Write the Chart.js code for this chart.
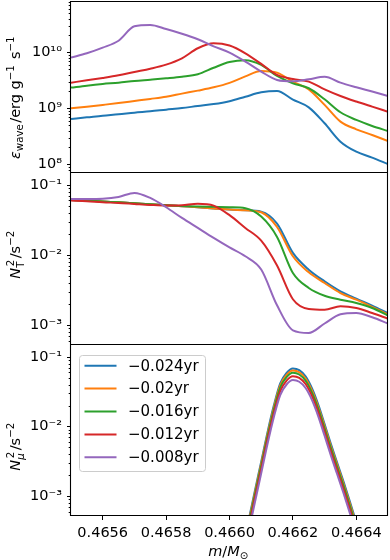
<!DOCTYPE html>
<html>
<head>
<meta charset="utf-8">
<script src="https://cdn.jsdelivr.net/npm/chart.js@4.4.1/dist/chart.umd.min.js"></script>
<style>
  html, body { margin: 0; padding: 0; background: #fff; }
  #wrap { position: relative; width: 390px; height: 560px; overflow: hidden; }
  canvas { position: absolute; left: 0; }
</style>
</head>
<body>
<div id="wrap">
  <canvas id="eps" width="390" height="173" style="top:0;width:390px;height:173px"></canvas>
  <canvas id="nt" width="390" height="172" style="top:173px;width:390px;height:172px"></canvas>
  <canvas id="nmu" width="390" height="215" style="top:345px;width:390px;height:215px"></canvas>
</div>
<script>
// ---- data ----
const seriesLabels = ['\u22120.024yr', '\u22120.02yr', '\u22120.016yr', '\u22120.012yr', '\u22120.008yr'];
const seriesColors = ['#1f77b4', '#ff7f0e', '#2ca02c', '#d62728', '#9467bd'];

// mass coordinate m/Msun (top two panels)
const mass = [0.46550, 0.46555, 0.46560, 0.46565, 0.46570, 0.46575, 0.46580, 0.46585, 0.46590, 0.46595,
              0.46600, 0.46605, 0.46610, 0.46615, 0.46620, 0.46625, 0.46630, 0.46635, 0.46640, 0.46645, 0.46650];
// mass coordinate for the N_mu peak (bottom panel)
const massMu = [0.46604, 0.46606, 0.46608, 0.46610, 0.46612, 0.46614, 0.46616, 0.46618, 0.46620, 0.46622,
                0.46624, 0.46626, 0.46628, 0.46630, 0.46632, 0.46634, 0.46636, 0.46638, 0.46640];

// epsilon_wave, erg g^-1 s^-1
const eps024 = [6.46e8, 6.9e8, 7.4e8, 7.82e8, 8.37e8, 8.83e8, 9.46e8, 1.01e9, 1.10e9, 1.19e9,
                1.34e9, 1.61e9, 1.93e9, 2.04e9, 1.43e9, 1.04e9, 5.4e8, 2.54e8, 1.68e8, 1.32e8, 1.01e8];
const eps020 = [1.0e9, 1.07e9, 1.15e9, 1.24e9, 1.35e9, 1.47e9, 1.61e9, 1.83e9, 2.07e9, 2.37e9,
                2.85e9, 3.72e9, 4.65e9, 4.33e9, 2.99e9, 2.18e9, 1.15e9, 5.78e8, 4.22e8, 3.34e8, 2.61e8];
const eps016 = [2.34e9, 2.54e9, 2.72e9, 2.87e9, 3.08e9, 3.25e9, 3.44e9, 3.67e9, 4.05e9, 5.3e9,
                6.7e9, 7.2e9, 5.94e9, 3.78e9, 2.79e9, 2.28e9, 1.45e9, 8.5e8, 6.2e8, 4.84e8, 3.94e8];
const eps012 = [2.87e9, 3.16e9, 3.48e9, 3.88e9, 4.46e9, 5.1e9, 6.03e9, 7.82e9, 1.18e10, 1.45e10,
                1.32e10, 9.6e9, 6.2e9, 3.94e9, 3.34e9, 2.99e9, 2.18e9, 1.66e9, 1.32e9, 1.07e9, 8.7e8];
const eps008 = [8.04e9, 9.6e9, 1.21e10, 1.61e10, 2.91e10, 3.08e10, 2.61e10, 2.15e10, 1.71e10, 1.28e10,
                9.87e9, 6.81e9, 4.52e9, 3.21e9, 3.03e9, 3.3e9, 3.67e9, 2.87e9, 2.37e9, 1.99e9, 1.66e9];

// N_T^2, s^-2
const nt024 = [0.0611, 0.0597, 0.0578, 0.0565, 0.0547, 0.0529, 0.0513, 0.0496, 0.0480, 0.0462,
               0.0444, 0.0435, 0.0416, 0.0281, 0.0107, 0.00617, 0.00421, 0.00303, 0.00238, 0.00189, 0.00148];
const nt020 = [0.0611, 0.0597, 0.0578, 0.0565, 0.0547, 0.0529, 0.0513, 0.0496, 0.0480, 0.0462,
               0.0444, 0.0435, 0.0407, 0.0251, 0.00957, 0.00565, 0.00398, 0.00286, 0.0023, 0.00181, 0.00141];
const nt016 = [0.0611, 0.0597, 0.0578, 0.0565, 0.0547, 0.0529, 0.0513, 0.0500, 0.0492, 0.0486,
               0.0480, 0.0464, 0.0353, 0.0181, 0.00553, 0.00338, 0.00262, 0.0023, 0.00206, 0.00175, 0.00136];
const nt012 = [0.0597, 0.0585, 0.0565, 0.0553, 0.0535, 0.0518, 0.0507, 0.0513, 0.0540, 0.0507,
               0.0370, 0.0243, 0.0160, 0.00705, 0.00233, 0.00169, 0.00165, 0.00185, 0.00175, 0.00148, 0.00123];
const nt008 = [0.0631, 0.0631, 0.0637, 0.0674, 0.0769, 0.0652, 0.0480, 0.0338, 0.0243, 0.0175,
               0.0128, 0.00957, 0.0062, 0.00191, 0.00084, 0.00077, 0.00105, 0.00142, 0.00148, 0.00129, 0.00105];

// N_mu^2, s^-2
const nmu024 = [1.71e-4, 4.44e-4, 1.19e-3, 3.12e-3, 8.30e-3, 0.0201, 0.0416, 0.0589, 0.0681, 0.0644,
                0.0524, 0.0354, 0.0206, 0.0108, 5.58e-3, 2.99e-3, 1.60e-3, 8.30e-4, 4.16e-4];
const nmu020 = [1.60e-4, 4.14e-4, 1.11e-3, 2.91e-3, 7.74e-3, 0.0188, 0.0388, 0.0550, 0.0635, 0.0601,
                0.0489, 0.0330, 0.0192, 0.0101, 5.21e-3, 2.79e-3, 1.49e-3, 7.74e-4, 3.88e-4];
const nmu016 = [1.48e-4, 3.85e-4, 1.03e-3, 2.71e-3, 7.20e-3, 0.0174, 0.0361, 0.0511, 0.0590, 0.0558,
                0.0454, 0.0307, 0.0179, 9.36e-3, 4.84e-3, 2.59e-3, 1.39e-3, 7.20e-4, 3.61e-4];
const nmu012 = [1.33e-4, 3.45e-4, 9.23e-4, 2.42e-3, 6.44e-3, 0.0156, 0.0323, 0.0457, 0.0528, 0.0500,
                0.0407, 0.0275, 0.0160, 8.38e-3, 4.33e-3, 2.32e-3, 1.24e-3, 6.44e-4, 3.23e-4];
const nmu008 = [1.16e-4, 3.02e-4, 8.10e-4, 2.12e-3, 5.65e-3, 0.0137, 0.0283, 0.0401, 0.0464, 0.0439,
                0.0357, 0.0241, 0.0140, 7.35e-3, 3.80e-3, 2.04e-3, 1.09e-3, 5.65e-4, 2.83e-4];

// axes
const xRange = [0.4655, 0.4665];
const xTicks = [0.4656, 0.4658, 0.4660, 0.4662, 0.4664];
const xTickLabels = ['0.4656', '0.4658', '0.4660', '0.4662', '0.4664'];
const epsRange = [7.0e7, 8.24e10];
const epsTicks = [1e8, 1e9, 1e10];
const epsTickLabels = ['10\u2078', '10\u2079', '10\u00b9\u2070'];
const nRange = [5.18e-4, 0.148];
const nTicks = [1e-3, 1e-2, 1e-1];
const nTickLabels = ['10\u207b\u00b3', '10\u207b\u00b2', '10\u207b\u00b9'];

// ---- drawing helpers ----
const FAMILY = '"DejaVu Sans", sans-serif';
const BIG = 14.5, SMALL = 10.2, SUP = -6, SUB = 3.5;

Chart.defaults.font.family = FAMILY;
Chart.defaults.color = '#000';

function fontStr(size, italic) {
    return (italic ? 'italic ' : '') + size + 'px ' + FAMILY;
}

function partWidth(ctx, p) {
    if (p.stack) return Math.max(...p.stack.map(q => partWidth(ctx, q))) + 1.5;
    ctx.font = fontStr(p.s, p.it);
    return ctx.measureText(p.t).width + (p.s === SMALL ? 1.5 : 0);
}

// text with sub/superscripts, centred on (x, y) baseline
function drawRich(ctx, parts, x, y, angle) {
    ctx.save();
    ctx.translate(x, y);
    ctx.rotate(angle);
    ctx.fillStyle = '#000';
    ctx.textAlign = 'left';
    ctx.textBaseline = 'alphabetic';
    const widths = parts.map(p => partWidth(ctx, p));
    let cx = -widths.reduce((a, b) => a + b, 0) / 2;
    parts.forEach((p, i) => {
        (p.stack || [p]).forEach(q => {
            ctx.font = fontStr(q.s, q.it);
            ctx.fillText(q.t, cx + (q.dx || 0), q.dy || 0);
        });
        cx += widths[i];
    });
    ctx.restore();
}

function roundRectPath(ctx, x, y, w, h, r) {
    ctx.beginPath();
    ctx.moveTo(x + r, y);
    ctx.lineTo(x + w - r, y);
    ctx.arcTo(x + w, y, x + w, y + r, r);
    ctx.lineTo(x + w, y + h - r);
    ctx.arcTo(x + w, y + h, x + w - r, y + h, r);
    ctx.lineTo(x + r, y + h);
    ctx.arcTo(x, y + h, x, y + h - r, r);
    ctx.lineTo(x, y + r);
    ctx.arcTo(x, y, x + r, y, r);
    ctx.closePath();
}

function drawLegend(chart, L) {
    const ctx = chart.ctx;
    ctx.save();
    roundRectPath(ctx, L.x, L.y, L.w, L.h, 3);
    ctx.fillStyle = 'rgba(255,255,255,0.8)';
    ctx.fill();
    ctx.strokeStyle = '#cccccc';
    ctx.lineWidth = 1;
    ctx.stroke();
    ctx.font = fontStr(15, false);
    ctx.textBaseline = 'middle';
    ctx.textAlign = 'left';
    chart.data.datasets.forEach((d, i) => {
        const y = L.row0 + i * L.step;
        ctx.strokeStyle = d.borderColor;
        ctx.lineWidth = 2;
        ctx.beginPath();
        ctx.moveTo(L.x + 5, y);
        ctx.lineTo(L.x + 37, y);
        ctx.stroke();
        ctx.fillStyle = '#000';
        ctx.fillText(d.label, L.x + 48.5, y + 1);
    });
    ctx.restore();
}

// frame, log minor ticks, axis titles, legend
const decoPlugin = {
    id: 'deco',
    afterDatasetsDraw(chart, args, o) {
        const ctx = chart.ctx, a = chart.chartArea, ys = chart.scales.y;
        ctx.save();
        ctx.strokeStyle = '#000';
        ctx.lineWidth = 1;
        const lo = Math.floor(Math.log10(ys.min)), hi = Math.ceil(Math.log10(ys.max));
        for (let e = lo; e <= hi; e++) {
            for (let m = 1; m <= 9; m++) {
                const v = m * Math.pow(10, e);
                if (v < ys.min || v > ys.max) continue;
                const py = Math.round(ys.getPixelForValue(v)) + 0.5;
                const len = m === 1 ? 4 : 2.3;
                ctx.beginPath();
                ctx.moveTo(a.left - len, py);
                ctx.lineTo(a.left, py);
                ctx.stroke();
            }
        }
        const l = Math.round(a.left) - 0.5, r = Math.round(a.right) - 0.5;
        const t = Math.round(a.top) + 0.5, b = Math.round(a.bottom) - 0.5;
        ctx.lineWidth = 1.1;
        ctx.beginPath();
        if (o.top) { ctx.moveTo(l, t); ctx.lineTo(r, t); }
        ctx.moveTo(l, b); ctx.lineTo(r, b);
        ctx.moveTo(l, Math.round(a.top)); ctx.lineTo(l, b + 0.5);
        ctx.moveTo(r, Math.round(a.top)); ctx.lineTo(r, b + 0.5);
        ctx.stroke();
        ctx.restore();
        if (o.title) drawRich(ctx, o.title, o.titleX, o.titleY, -Math.PI / 2);
        if (o.xTitle) drawRich(ctx, o.xTitle, o.xTitleX, o.xTitleY, 0);
        if (o.legend) drawLegend(chart, o.legend);
    }
};

function lineSet(i, xs, ys) {
    return {
        label: seriesLabels[i],
        data: xs.map((x, k) => ({ x: x, y: ys[k] })),
        borderColor: seriesColors[i],
        backgroundColor: seriesColors[i],
        borderWidth: 2,
        pointRadius: 0,
        cubicInterpolationMode: 'monotone',
        fill: false,
        order: 4 - i
    };
}

function makeChart(id, datasets, yRange, yTicks, yTickLabels, deco, showX) {
    return new Chart(document.getElementById(id), {
        type: 'line',
        data: { datasets: datasets },
        options: {
            responsive: false,
            animation: false,
            devicePixelRatio: 1,
            layout: { padding: { left: 0, right: 2, top: deco.top ? 1 : 0, bottom: 0 } },
            plugins: { legend: { display: false }, tooltip: { enabled: false }, deco: deco },
            scales: {
                x: {
                    type: 'linear',
                    display: showX,
                    min: xRange[0],
                    max: xRange[1],
                    afterBuildTicks: s => { s.ticks = xTicks.map(v => ({ value: v })); },
                    afterFit: s => {
                        s.height = showX ? 44 : 0;
                        s.paddingLeft = 0;
                        s.paddingRight = 0;
                    },
                    ticks: {
                        autoSkip: false, maxRotation: 0, padding: 5,
                        font: { size: BIG },
                        callback: (v, i) => xTickLabels[i]
                    },
                    grid: { drawOnChartArea: false, drawTicks: true, tickLength: 4, color: '#000', lineWidth: 1 },
                    border: { display: false }
                },
                y: {
                    type: 'logarithmic',
                    min: yRange[0],
                    max: yRange[1],
                    afterBuildTicks: s => { s.ticks = yTicks.map(v => ({ value: v })); },
                    afterFit: s => { s.width = 71; s.paddingTop = 0; s.paddingBottom = 0; },
                    ticks: {
                        autoSkip: false, padding: 5,
                        font: { size: BIG },
                        callback: (v, i) => yTickLabels[i]
                    },
                    grid: { drawOnChartArea: false, drawTicks: true, tickLength: 4, color: 'rgba(0,0,0,0)' },
                    border: { display: false }
                }
            }
        },
        plugins: [decoPlugin]
    });
}

const epsTitle = [
    { t: '\u03b5', s: BIG, it: true }, { t: 'wave', s: SMALL, dy: SUB },
    { t: '/erg g', s: BIG }, { t: '\u22121', s: SMALL, dy: SUP },
    { t: ' s', s: BIG }, { t: '\u22121', s: SMALL, dy: SUP }
];
const ntTitle = [
    { t: 'N', s: BIG, it: true },
    { stack: [{ t: '2', s: SMALL, dy: SUP, dx: 1.5 }, { t: 'T', s: SMALL, dy: SUB + 0.5 }] },
    { t: '/s', s: BIG }, { t: '\u22122', s: SMALL, dy: SUP }
];
const nmuTitle = [
    { t: 'N', s: BIG, it: true },
    { stack: [{ t: '2', s: SMALL, dy: SUP, dx: 1.5 }, { t: '\u03bc', s: SMALL, it: true, dy: SUB + 0.5 }] },
    { t: '/s', s: BIG }, { t: '\u22122', s: SMALL, dy: SUP }
];
const xTitle = [
    { t: 'm', s: BIG, it: true }, { t: '/', s: BIG },
    { t: 'M', s: BIG, it: true }, { t: '\u2299', s: SMALL, dy: SUB }
];

makeChart('eps',
    [eps024, eps020, eps016, eps012, eps008].map((ys, i) => lineSet(i, mass, ys)),
    epsRange, epsTicks, epsTickLabels,
    { top: true, title: epsTitle, titleX: 19.5, titleY: 97 }, false);

makeChart('nt',
    [nt024, nt020, nt016, nt012, nt008].map((ys, i) => lineSet(i, mass, ys)),
    nRange, nTicks, nTickLabels,
    { top: false, title: ntTitle, titleX: 20, titleY: 81 }, false);

makeChart('nmu',
    [nmu024, nmu020, nmu016, nmu012, nmu008].map((ys, i) => lineSet(i, massMu, ys)),
    nRange, nTicks, nTickLabels,
    {
        top: false, title: nmuTitle, titleX: 20, titleY: 101,
        xTitle: xTitle, xTitleX: 229, xTitleY: 210.5,
        legend: { x: 79.5, y: 10.5, w: 126, h: 116, row0: 20.7, step: 22.9 }
    }, true);
</script>
</body>
</html>
